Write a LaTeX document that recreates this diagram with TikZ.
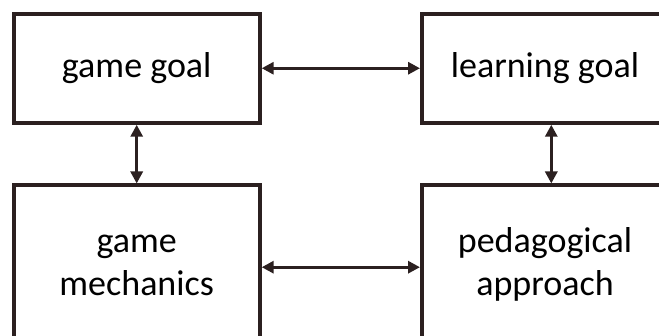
\documentclass[tikz,border=0pt]{standalone}
\usepackage{fontspec}
\setmainfont{Carlito}
\usetikzlibrary{arrows.meta}
\definecolor{linecol}{RGB}{43,32,32}
\begin{document}
\begin{tikzpicture}[x=1pt,y=-1pt,
  box/.style={draw=linecol, line width=4pt, rectangle, minimum width=246pt,
    align=center, inner sep=0pt, font=\fontsize{36}{43}\selectfont, text=black},
  arr/.style={draw=linecol, line width=3pt,
    {Triangle[length=12pt,width=12pt]}-{Triangle[length=12pt,width=12pt]}}]
\useasboundingbox (0,0) rectangle (659,336);
\clip (0,0) rectangle (659,336);
\node[box, minimum height=109pt] (tl) at (136.7,68.25) {\raisebox{-1pt}{game goal}};
\node[box, minimum height=109pt] (tr) at (545,68.25) {\raisebox{-1pt}{learning goal}};
\node[box, minimum height=160pt] (bl) at (136.7,265.5) {\raisebox{-2pt}{\begin{tabular}{@{}c@{}}game\\mechanics\end{tabular}}};
\node[box, minimum height=160pt] (br) at (545,265.5) {\raisebox{-2pt}{\begin{tabular}{@{}c@{}}pedagogical\\approach\end{tabular}}};
\draw[arr] (tl.east) -- (tr.west);
\draw[arr] ([yshift=-1.7pt]bl.east) -- ([yshift=-1.7pt]br.west);
\draw[arr] (tl.south) -- (bl.north);
\draw[arr] ([xshift=6.3pt]tr.south) -- ([xshift=6.3pt]br.north);
\end{tikzpicture}
\end{document}
